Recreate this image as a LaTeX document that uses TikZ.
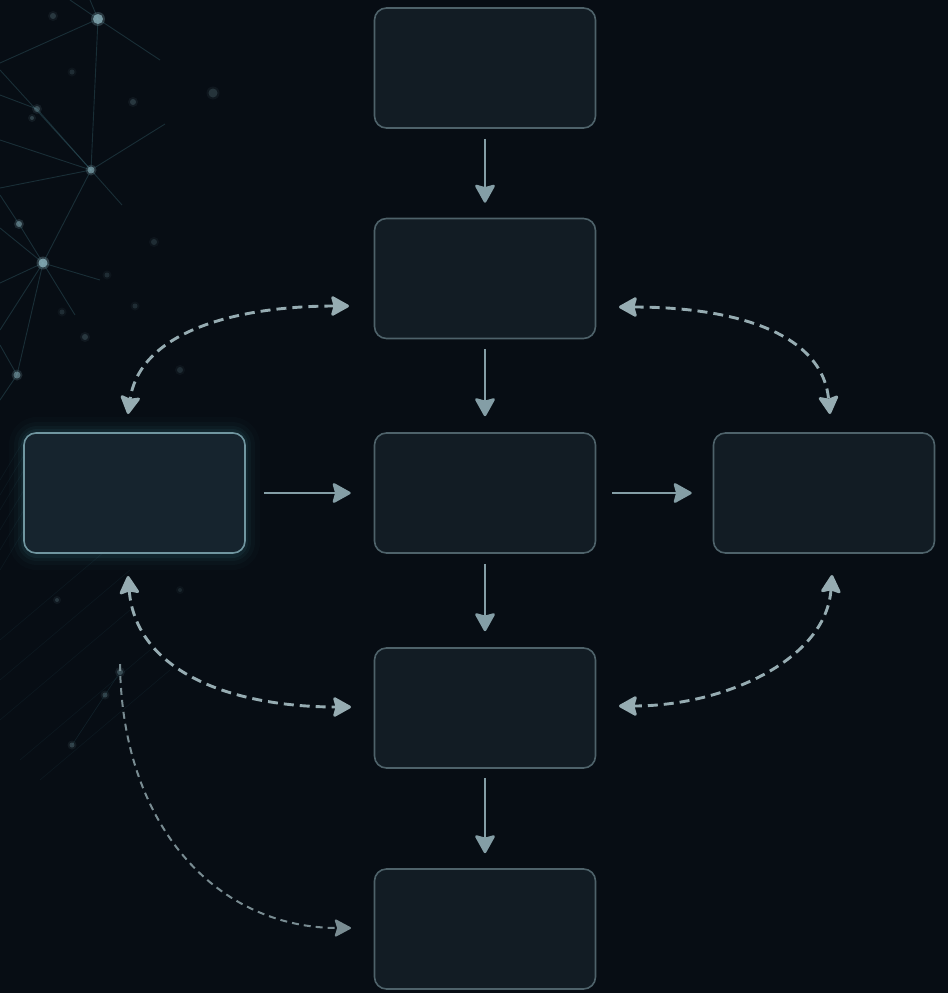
\documentclass[tikz,border=0pt]{standalone}
\usetikzlibrary{arrows.meta,calc}
\definecolor{bgcol}{RGB}{7,13,20}
\definecolor{boxfill}{RGB}{18,28,36}
\definecolor{boxline}{RGB}{78,98,106}
\definecolor{hiline}{RGB}{112,150,160}
\definecolor{hifill}{RGB}{22,36,46}
\definecolor{glowcol}{RGB}{60,125,140}
\definecolor{arrowcol}{RGB}{132,158,166}
\definecolor{dashcol}{RGB}{150,172,178}
\definecolor{netline}{RGB}{55,100,112}
\definecolor{netdot}{RGB}{140,180,190}
\begin{document}
\begin{tikzpicture}[x=1pt,y=-1pt,
  stepbox/.style={draw=boxline, line width=1.6pt, fill=boxfill, rounded corners=12pt,
    minimum width=221pt, minimum height=120pt, inner sep=0pt},
  hibox/.style={stepbox, draw=hiline, fill=hifill},
  flow/.style={draw=arrowcol, line width=2.6pt,
    -{Stealth[length=20pt,width=22pt,inset=3pt,round]}},
  link/.style={draw=dashcol, line width=2.9pt, dash pattern=on 10pt off 6pt,
    {Stealth[length=20pt,width=22pt,inset=3pt,round]}-{Stealth[length=20pt,width=22pt,inset=3pt,round]}},
  faintlink/.style={draw=dashcol!80!bgcol, line width=2pt, dash pattern=on 7pt off 5pt,
    -{Stealth[length=18pt,width=19pt,inset=3pt,round]}},
  netedge/.style={draw=netline, line width=0.9pt, opacity=0.38},
  ray/.style={draw=glowcol, line width=0.6pt, opacity=0.1}
]
% background
\fill[bgcol] (0,0) rectangle (948,993);
\useasboundingbox (0,0) rectangle (948,993);

% network in the upper left corner
\begin{scope}
  \foreach \a/\b in {{98,19}/{91,170}, {98,19}/{0,63}, {98,19}/{70,0}, {98,19}/{90,0},
                     {98,19}/{160,60}, {0,70}/{91,170}, {0,140}/{91,170},
                     {0,188}/{91,170}, {91,170}/{165,124},
                     {91,170}/{43,263}, {91,170}/{122,205},
                     {43,263}/{0,228}, {43,263}/{0,283}, {43,263}/{0,330}, {43,263}/{19,224},
                     {19,224}/{0,195}, {43,263}/{17,375}, {43,263}/{100,280}, {43,263}/{75,315},
                     {17,375}/{0,400}, {17,375}/{0,345}, {37,109}/{0,95}, {37,109}/{91,170}}
    \draw[netedge] (\a) -- (\b);
  \foreach \p/\r/\o in {{98,19}/5/0.75, {91,170}/3.5/0.6, {43,263}/4.5/0.8, {19,224}/3/0.5,
                        {17,375}/3.5/0.5, {37,109}/3/0.3, {32,118}/2/0.25, {53,16}/3/0.2,
                        {72,72}/2.5/0.15, {133,102}/3/0.2, {213,93}/4.5/0.18, {154,242}/3/0.15,
                        {107,275}/2.5/0.15, {62,312}/2.5/0.15, {85,337}/3/0.2, {135,306}/2.5/0.15,
                        {180,370}/3/0.15, {57,600}/2/0.2, {105,695}/2.5/0.25, {72,745}/2.5/0.25,
                        {120,672}/3/0.3, {180,590}/2/0.12}
    {\fill[netdot, opacity=\o*0.35] (\p) circle (\r pt+2pt);
     \fill[netdot, opacity=\o] (\p) circle (\r pt);}
  % faint rays around the highlighted box
  \foreach \y in {440,455,470,490,510,530}
    \draw[ray] (0,\y+40) -- (24,\y);
  \foreach \x/\y in {0/640, 0/680, 0/720, 20/760, 40/780}
    \draw[ray] (\x,\y) -- (\x+130,\y-110);
  \draw[ray, opacity=0.18] (105,695) -- (72,745);
  \draw[ray, opacity=0.18] (120,672) -- (105,695);
\end{scope}

% glow behind the highlighted box
\foreach \g/\o in {16/0.03, 11/0.05, 7/0.07, 4/0.10}
  \fill[glowcol, opacity=\o, rounded corners=12pt+\g pt]
    (25-\g,433-\g) rectangle (244+\g,554+\g);

% process boxes
\node[stepbox] (top)    at (485,68)    {};
\node[stepbox] (upper)  at (485,278.5) {};
\node[hibox]   (left)   at (134.5,493) {};
\node[stepbox] (center) at (485,493)   {};
\node[stepbox] (right)  at (824,493)   {};
\node[stepbox] (lower)  at (485,708)   {};
\node[stepbox] (bottom) at (485,929)   {};

% main flow
\draw[flow, shorten <=10pt, shorten >=15pt] (top) -- (upper);
\draw[flow, shorten <=10pt, shorten >=16pt] (upper) -- (center);
\draw[flow, shorten <=10pt, shorten >=16pt] (center) -- (lower);
\draw[flow, shorten <=9pt, shorten >=15pt] (lower) -- (bottom);
\draw[flow, shorten <=18pt, shorten >=23pt] (left) -- (center);
\draw[flow, shorten <=16pt, shorten >=21pt] (center) -- (right);

% feedback links
\coordinate (ul) at (349,306);
\coordinate (lt) at (128,414);
\coordinate (ur) at (619,307);
\coordinate (rt) at (830,414);
\coordinate (lb) at (128,576);
\coordinate (wl) at (351,707);
\coordinate (rb) at (832,575);
\coordinate (wr) at (619,706);
\coordinate (tail) at (120,664);
\coordinate (bl) at (351,928);

\draw[link] (ul) .. controls (240,306) and (140,330) .. (lt);
\draw[link] (ur) .. controls (728,307) and (822,330) .. (rt);
\draw[link] (lb) .. controls (136,672) and (232,707) .. (wl);
\draw[link] (rb) .. controls (826,660) and (724,706) .. (wr);
\draw[faintlink] (tail) .. controls (122,830) and (220,928) .. (bl);
\end{tikzpicture}
\end{document}
